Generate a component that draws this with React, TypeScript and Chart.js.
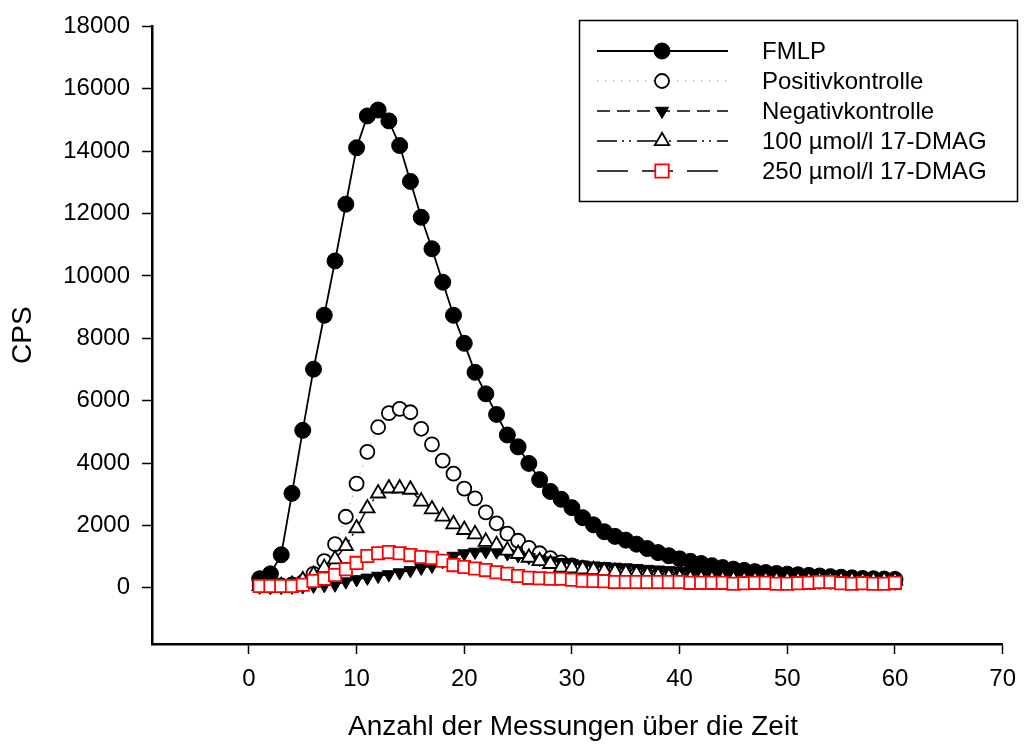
import React, { useEffect, useRef } from 'react';
import { Chart, registerables } from 'chart.js';

Chart.register(...registerables);

// ---------------- data ----------------
const measurements = [
  1, 2, 3, 4, 5, 6, 7, 8, 9, 10, 11, 12, 13, 14, 15, 16, 17, 18, 19, 20,
  21, 22, 23, 24, 25, 26, 27, 28, 29, 30, 31, 32, 33, 34, 35, 36, 37, 38, 39, 40,
  41, 42, 43, 44, 45, 46, 47, 48, 49, 50, 51, 52, 53, 54, 55, 56, 57, 58, 59, 60,
];

const fmlp = [
  290, 450, 1060, 3030, 5050, 7010, 8740, 10480, 12300, 14110,
  15130, 15320, 14970, 14180, 13030, 11880, 10870, 9800, 8740, 7840,
  6910, 6220, 5560, 4900, 4520, 3990, 3470, 3090, 2840, 2570,
  2250, 2020, 1800, 1650, 1530, 1400, 1260, 1130, 1030, 930,
  850, 780, 710, 650, 600, 560, 520, 490, 460, 440,
  420, 400, 380, 360, 340, 320, 300, 290, 280, 270,
];

const positivkontrolle = [
  80, 70, 80, 110, 180, 450, 860, 1400, 2280, 3340,
  4360, 5150, 5600, 5740, 5630, 5100, 4600, 4080, 3660, 3180,
  2870, 2420, 2070, 1740, 1510, 1280, 1110, 950, 820, 720,
  640, 580, 530, 490, 450, 420, 390, 360, 330, 300,
  280, 270, 260, 250, 240, 230, 230, 220, 220, 210,
  210, 200, 200, 200, 190, 190, 180, 180, 180, 170,
];

const negativkontrolle = [
  30, 20, 20, 30, 40, 60, 80, 100, 200, 270,
  320, 380, 430, 490, 560, 640, 700, 850, 1020, 1100,
  1150, 1170, 1160, 1100, 1040, 980, 920, 870, 820, 780,
  740, 710, 690, 670, 650, 630, 600, 580, 560, 530,
  500, 470, 440, 410, 390, 370, 350, 340, 330, 320,
  310, 300, 300, 290, 290, 280, 280, 270, 270, 260,
];

const dmag100 = [
  60, 50, 60, 100, 250, 420, 640, 920, 1340, 1910,
  2550, 3030, 3190, 3190, 3150, 2770, 2520, 2290, 2040, 1860,
  1720, 1480, 1370, 1200, 1090, 970, 860, 770, 650, 630,
  600, 570, 540, 510, 470, 440, 410, 380, 350, 320,
  300, 290, 280, 270, 270, 260, 260, 260, 250, 250,
  250, 250, 260, 250, 250, 240, 240, 240, 240, 240,
];

const dmag250 = [
  60, 60, 60, 60, 100, 220, 290, 410, 600, 800,
  1020, 1110, 1150, 1110, 1050, 990, 960, 870, 730, 670,
  620, 570, 500, 450, 380, 320, 310, 290, 290, 260,
  230, 220, 210, 190, 190, 190, 190, 190, 190, 190,
  160, 160, 160, 160, 130, 150, 160, 160, 130, 130,
  150, 160, 190, 190, 150, 130, 150, 130, 130, 160,
];

const seriesNames = [
  'FMLP',
  'Positivkontrolle',
  'Negativkontrolle',
  '100 µmol/l 17-DMAG',
  '250 µmol/l 17-DMAG',
];

const xTicks = [0, 10, 20, 30, 40, 50, 60, 70];
const yTicks = [0, 2000, 4000, 6000, 8000, 10000, 12000, 14000, 16000, 18000];

const xTitle = 'Anzahl der Messungen über die Zeit';
const yTitle = 'CPS';

// ---------------- styles ----------------
const FONT = "'Liberation Sans', Arial, Helvetica, sans-serif";

const styles = [
  { line: '#000', lw: 1.8, dash: [], shape: 'circle', r: 8, fill: '#000', stroke: '#000', bw: 1, rot: 0 },
  { line: 'rgba(0,0,0,0.4)', lw: 1, dash: [1.5, 6.5], shape: 'circle', r: 7, fill: '#fff', stroke: '#000', bw: 1.8, rot: 0 },
  { line: '#000', lw: 1.5, dash: [13, 7], shape: 'triangle', r: 7.5, fill: '#000', stroke: '#000', bw: 1, rot: 180 },
  { line: '#000', lw: 1.5, dash: [20, 5, 2, 5, 2, 6], shape: 'triangle', r: 8.3, fill: '#fff', stroke: '#000', bw: 1.8, rot: 0 },
  { line: '#000', lw: 1.5, dash: [31, 14], shape: 'rect', r: 8.7, fill: '#fff', stroke: '#ff0000', bw: 1.8, rot: 0 },
];

function drawMarker(ctx: CanvasRenderingContext2D, s: any, x: number, y: number) {
  ctx.save();
  ctx.setLineDash([]);
  ctx.beginPath();
  if (s.shape === 'circle') {
    ctx.arc(x, y, s.r, 0, Math.PI * 2);
  } else if (s.shape === 'triangle') {
    let rad = (s.rot * Math.PI) / 180;
    ctx.moveTo(x + Math.sin(rad) * s.r, y - Math.cos(rad) * s.r);
    rad += (2 * Math.PI) / 3;
    ctx.lineTo(x + Math.sin(rad) * s.r, y - Math.cos(rad) * s.r);
    rad += (2 * Math.PI) / 3;
    ctx.lineTo(x + Math.sin(rad) * s.r, y - Math.cos(rad) * s.r);
    ctx.closePath();
  } else {
    const h = s.r * Math.SQRT1_2;
    ctx.rect(x - h, y - h, 2 * h, 2 * h);
  }
  ctx.fillStyle = s.fill;
  ctx.fill();
  ctx.lineWidth = s.bw;
  ctx.strokeStyle = s.stroke;
  ctx.stroke();
  ctx.restore();
}

const decorPlugin = {
  id: 'decor',
  afterDraw(chart: any) {
    const ctx: CanvasRenderingContext2D = chart.ctx;
    ctx.save();
    // axis titles
    ctx.fillStyle = '#000';
    ctx.font = `28px ${FONT}`;
    ctx.textAlign = 'center';
    ctx.textBaseline = 'middle';
    ctx.fillText(xTitle, 573, 727);
    ctx.save();
    ctx.translate(23, (chart.chartArea.top + chart.chartArea.bottom) / 2);
    ctx.rotate(-Math.PI / 2);
    ctx.fillText(yTitle, 0, 0);
    ctx.restore();

    // legend box
    const bx = 579.5, by = 20.5, bw = 438, bh = 181;
    ctx.fillStyle = '#fff';
    ctx.fillRect(bx, by, bw, bh);
    ctx.lineWidth = 1.5;
    ctx.strokeStyle = '#000';
    ctx.strokeRect(bx, by, bw, bh);

    const rows = [51, 81, 111, 141, 171];
    seriesNames.forEach((name, i) => {
      const s = styles[i];
      const y = rows[i];
      ctx.save();
      ctx.beginPath();
      ctx.setLineDash(s.dash);
      ctx.lineWidth = s.lw;
      ctx.strokeStyle = s.line;
      ctx.moveTo(597, y);
      ctx.lineTo(728, y);
      ctx.stroke();
      ctx.restore();
      drawMarker(ctx, i === 4 ? { ...s, r: 9.5 } : s, 662, y);
      ctx.fillStyle = '#000';
      ctx.font = `24px ${FONT}`;
      ctx.textAlign = 'left';
      ctx.textBaseline = 'middle';
      ctx.fillText(name, 762, y + 1);
    });
    ctx.restore();
  },
};

export default function App() {
  const canvasRef = useRef<HTMLCanvasElement | null>(null);

  useEffect(() => {
    document.body.style.margin = '0';
    const canvas = canvasRef.current;
    if (!canvas) return;

    const series = [fmlp, positivkontrolle, negativkontrolle, dmag100, dmag250];
    const datasets = series.map((vals, i) => {
      const s = styles[i];
      return {
        label: seriesNames[i],
        data: measurements.map((x, k) => ({ x, y: vals[k] })),
        showLine: true,
        borderColor: s.line,
        borderWidth: s.lw,
        borderDash: s.dash,
        pointStyle: s.shape,
        pointRadius: s.r,
        pointRotation: s.rot,
        pointBackgroundColor: s.fill,
        pointBorderColor: s.stroke,
        pointBorderWidth: s.bw,
        pointHoverRadius: s.r,
        tension: 0,
        fill: false,
        order: 5 - i,
        clip: false,
      };
    });

    const axisCommon = {
      type: 'linear',
      grid: {
        display: true,
        drawOnChartArea: false,
        drawTicks: true,
        tickLength: 10,
        tickWidth: 1.5,
        tickColor: '#000',
      },
      border: { display: true, color: '#000', width: 2.5 },
    };

    const chart = new Chart(canvas, {
      type: 'scatter',
      data: { datasets } as any,
      options: {
        responsive: false,
        maintainAspectRatio: false,
        animation: false,
        events: [],
        layout: { padding: { top: 22, right: 15, left: 0, bottom: 0 } },
        plugins: {
          legend: { display: false },
          tooltip: { enabled: false },
          title: { display: false },
        },
        scales: {
          x: {
            ...axisCommon,
            min: -9,
            max: 70,
            afterBuildTicks: (s: any) => {
              s.ticks = xTicks.map((v) => ({ value: v }));
            },
            afterFit: (s: any) => {
              s.height = 100;
            },
            ticks: {
              autoSkip: false,
              maxRotation: 0,
              padding: 11,
              color: '#000',
              font: { family: FONT, size: 24 },
              callback: (v: any) => String(v),
            },
          },
          y: {
            ...axisCommon,
            min: -1800,
            max: 18000,
            afterBuildTicks: (s: any) => {
              s.ticks = yTicks.map((v) => ({ value: v }));
            },
            afterFit: (s: any) => {
              s.width = 152;
            },
            ticks: {
              autoSkip: false,
              padding: 12,
              color: '#000',
              font: { family: FONT, size: 24 },
              callback: (v: any) => String(v),
            },
          },
        },
      } as any,
      plugins: [decorPlugin],
    });

    return () => chart.destroy();
  }, []);

  return (
    <div style={{ width: 1027, height: 744, background: '#fff' }}>
      <canvas ref={canvasRef} width={1027} height={744} style={{ display: 'block' }} />
    </div>
  );
}
